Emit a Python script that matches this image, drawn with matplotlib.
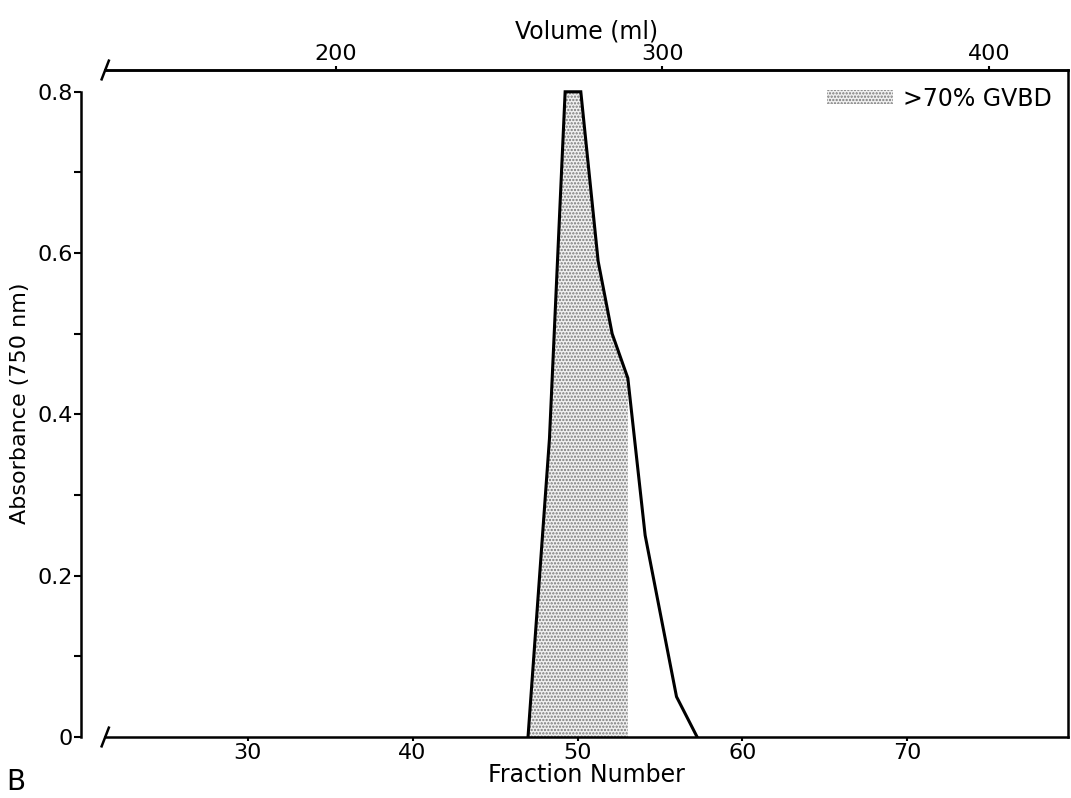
import numpy as np
import matplotlib
matplotlib.use("Agg")
import matplotlib.pyplot as plt
from matplotlib.patches import Patch

# ---- data ----
fraction = [47.0, 48.3, 49.25, 50.2, 51.25, 52.1, 53.05, 54.1, 56.0, 57.25]
absorbance = [0.0, 0.37, 0.80, 0.80, 0.59, 0.50, 0.445, 0.25, 0.05, 0.0]
gvbd_last_fraction = 53.05          # shaded (>70% GVBD) fractions end here
x_ticks = [30, 40, 50, 60, 70]
y_major = [0, 0.2, 0.4, 0.6, 0.8]
y_labels = ["0", "0.2", "0.4", "0.6", "0.8"]
y_minor = [0.1, 0.3, 0.5, 0.7]
volume_ticks = [200, 300, 400]
ML_PER_FRACTION = 5.05
ML_OFFSET = 21.5

plt.rcParams['font.family'] = ['DejaVu Sans']
plt.rcParams['hatch.linewidth'] = 1.1
plt.rcParams['hatch.color'] = '#787878'

W, H = 1071, 798
fig = plt.figure(figsize=(W / 100, H / 100), dpi=100)
ax = fig.add_axes([105 / W, (H - 737) / H, (1068 - 105) / W, (737 - 70) / H])

ax.set_xlim(21.36, 79.73)
ax.set_ylim(0, 0.827)

fr = np.array(fraction)
ab = np.array(absorbance)
mask = fr <= gvbd_last_fraction
ax.fill_between(fr[mask], 0, ab[mask], facecolor='#f0f0f0', edgecolor='#787878',
                hatch='.....', linewidth=0, zorder=1)
ax.plot(fr, ab, color='black', lw=2.2, solid_joinstyle='miter', zorder=3)

# spines
for s in ['top', 'bottom', 'right', 'left']:
    ax.spines[s].set_linewidth(1.8)
ax.spines['left'].set_position(('outward', 17))
ax.spines['left'].set_bounds(0, 0.8)

ax.set_xticks(x_ticks)
ax.set_xticklabels([str(t) for t in x_ticks])
ax.set_yticks(y_major)
ax.set_yticklabels(y_labels)
ax.set_yticks(y_minor, minor=True)
ax.tick_params(axis='y', which='both', direction='out', length=5, width=1.5, pad=1,
               labelsize=16)
ax.tick_params(axis='x', which='both', direction='out', length=3, width=1.5, pad=1,
               labelsize=16)

ax.set_xlabel('Fraction Number', fontsize=17, labelpad=0)
ax.set_ylabel('Absorbance (750 nm)', fontsize=16)
ax.yaxis.set_label_coords(-0.078, 0.5)

sec = ax.secondary_xaxis('top', functions=(lambda f: f * ML_PER_FRACTION + ML_OFFSET,
                                           lambda v: (v - ML_OFFSET) / ML_PER_FRACTION))
sec.set_xticks(volume_ticks)
sec.set_xticklabels([str(v) for v in volume_ticks])
sec.tick_params(direction='out', length=3, width=1.5, pad=1, labelsize=16)
sec.spines['top'].set_linewidth(1.8)
sec.set_xlabel('Volume (ml)', fontsize=17, labelpad=4)

# break marks at the left ends of the horizontal axes
for yb in (0, 1):
    ax.plot([-0.0035, 0.004], [yb - 0.014, yb + 0.014], transform=ax.transAxes,
            color='black', lw=1.8, clip_on=False)

leg = ax.legend(handles=[Patch(facecolor='#f0f0f0', edgecolor='#787878', hatch='.....',
                               linewidth=0, label='>70% GVBD')],
                loc='upper right', frameon=False, fontsize=17, handlelength=2.8,
                handleheight=0.55, handletextpad=0.4, borderaxespad=0.3)

fig.text(0.006, 0.002, 'B', fontsize=20, ha='left', va='bottom')

fig.savefig('out.png', dpi=100)
